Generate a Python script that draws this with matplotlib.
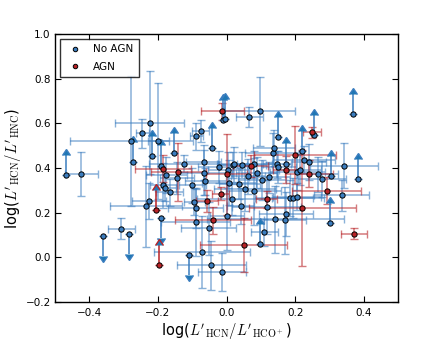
import matplotlib
matplotlib.use("Agg")
import numpy as np
import matplotlib.pyplot as plt

# --- No AGN : points with error bars ---
noagn_x = [-0.423, -0.307, -0.277, -0.245, -0.224, -0.226, -0.236, -0.199, -0.184, -0.178,
           -0.176, -0.166, -0.144, -0.125, -0.100, -0.094, -0.090, -0.090, -0.088, -0.075,
           -0.071, -0.067, -0.065, -0.062, -0.052, -0.044, -0.022, -0.013, 0.002, 0.005,
           0.007, 0.015, 0.019, 0.023, 0.037, 0.041, 0.046, 0.054, 0.063, 0.066,
           0.079, 0.081, 0.088, 0.096, 0.104, 0.110, 0.117, 0.124, 0.134, 0.138,
           0.142, 0.147, 0.151, 0.170, 0.173, 0.184, 0.192, 0.204, 0.206, 0.214,
           0.226, 0.240, 0.265, 0.278, 0.336, 0.342]
noagn_y = [0.373, 0.127, 0.522, 0.556, 0.602, 0.253, 0.228, 0.520, 0.323, 0.311,
           0.368, 0.292, 0.355, 0.420, 0.322, 0.249, 0.222, 0.158, 0.542, 0.565,
           0.024, 0.425, 0.379, 0.341, 0.130, -0.036, 0.405, -0.064, 0.185, 0.390,
           0.334, 0.259, 0.413, 0.416, 0.329, 0.229, 0.413, 0.307, 0.362, 0.630,
           0.295, 0.416, 0.379, 0.653, 0.346, 0.113, 0.225, 0.359, 0.468, 0.490,
           0.170, 0.416, 0.404, 0.167, 0.194, 0.267, 0.267, 0.271, 0.383, 0.392,
           0.437, 0.428, 0.371, 0.352, 0.277, 0.411]
noagn_xerr = [0.047, 0.039, 0.180, 0.020, 0.100, 0.050, 0.105, 0.030, 0.040, 0.030,
              0.060, 0.040, 0.050, 0.100, 0.040, 0.030, 0.080, 0.100, 0.020, 0.025,
              0.140, 0.050, 0.080, 0.060, 0.080, 0.100, 0.060, 0.070, 0.050, 0.060,
              0.080, 0.100, 0.040, 0.050, 0.060, 0.040, 0.070, 0.090, 0.050, 0.040,
              0.080, 0.050, 0.060, 0.104, 0.070, 0.040, 0.100, 0.060, 0.080, 0.060,
              0.200, 0.040, 0.050, 0.060, 0.080, 0.100, 0.060, 0.070, 0.080, 0.060,
              0.090, 0.050, 0.060, 0.070, 0.080, 0.100]
noagn_yerr = [0.097, 0.047, 0.290, 0.065, 0.230, 0.080, 0.180, 0.260, 0.100, 0.060,
              0.080, 0.060, 0.070, 0.040, 0.080, 0.060, 0.090, 0.150, 0.060, 0.050,
              0.160, 0.080, 0.100, 0.060, 0.120, 0.110, 0.070, 0.085, 0.150, 0.080,
              0.100, 0.070, 0.060, 0.080, 0.070, 0.080, 0.060, 0.100, 0.080, 0.045,
              0.150, 0.060, 0.070, 0.155, 0.090, 0.060, 0.120, 0.070, 0.090, 0.080,
              0.150, 0.060, 0.070, 0.150, 0.100, 0.080, 0.090, 0.060, 0.080, 0.070,
              0.060, 0.080, 0.080, 0.080, 0.070, 0.100]

# --- No AGN : lower limits (arrow up) and upper limits (arrow down) ---
noagn_lo_x = [-0.469, -0.273, -0.217, -0.192, -0.153, -0.042, -0.010, -0.006, 0.098, 0.149,
              0.173, 0.220, 0.255, 0.301, 0.305, 0.369, 0.383]
noagn_lo_y = [0.368, 0.426, 0.455, 0.411, 0.466, 0.490, 0.613, 0.620, 0.061, 0.538,
              0.420, 0.475, 0.547, 0.155, 0.364, 0.641, 0.349]
noagn_up_x = [-0.361, -0.284, -0.192, -0.109]
noagn_up_y = [0.097, 0.106, 0.177, 0.009]

# --- AGN ---
agn_x = [-0.185, -0.141, -0.056, -0.040, -0.017, -0.012, 0.000, 0.050, 0.070, 0.117,
         0.174, 0.200, 0.221, 0.239, 0.249, 0.291, 0.372]
agn_y = [0.396, 0.382, 0.253, 0.165, 0.285, 0.653, 0.371, 0.055, 0.408, 0.259,
         0.393, 0.459, 0.222, 0.374, 0.559, 0.298, 0.106]
agn_xerr = [0.082, 0.080, 0.032, 0.110, 0.025, 0.062, 0.060, 0.127, 0.050, 0.030,
            0.040, 0.120, 0.155, 0.070, 0.025, 0.100, 0.038]
agn_yerr = [0.060, 0.130, 0.050, 0.060, 0.030, 0.040, 0.180, 0.120, 0.050, 0.040,
            0.060, 0.130, 0.260, 0.060, 0.025, 0.060, 0.025]
agn_lo_x = [-0.205, -0.197]
agn_lo_y = [0.210, -0.034]

blue = '#3b7dbf'
red = '#b82226'
lim_len = 0.09

plt.rcParams['mathtext.fontset'] = 'cm'

fig = plt.figure(figsize=(4.43, 3.46), dpi=100)
ax = fig.add_axes([0.124, 0.127, 0.775, 0.775])

ax.errorbar(noagn_x, noagn_y, xerr=noagn_xerr, yerr=noagn_yerr, fmt='none',
            ecolor=blue, alpha=0.6, elinewidth=1.1, capsize=3, zorder=1)
ax.errorbar(agn_x, agn_y, xerr=agn_xerr, yerr=agn_yerr, fmt='none',
            ecolor=red, alpha=0.6, elinewidth=1.1, capsize=3, zorder=1)

ax.errorbar(noagn_lo_x, noagn_lo_y, yerr=lim_len, lolims=True, fmt='none',
            ecolor=blue, elinewidth=1.1, capsize=3, zorder=2)
ax.errorbar(noagn_up_x, noagn_up_y, yerr=lim_len, uplims=True, fmt='none',
            ecolor=blue, elinewidth=1.1, capsize=3, zorder=2)
ax.errorbar(agn_lo_x, agn_lo_y, yerr=lim_len, lolims=True, fmt='none',
            ecolor=red, elinewidth=1.1, capsize=3, zorder=2)

ax.plot(noagn_x + noagn_lo_x + noagn_up_x, noagn_y + noagn_lo_y + noagn_up_y, 'o',
        color=blue, mec='black', mew=0.7, ms=3.8, zorder=3, label='No AGN')
ax.plot(agn_x + agn_lo_x, agn_y + agn_lo_y, 'o',
        color=red, mec='black', mew=0.7, ms=3.8, zorder=3, label='AGN')

ax.set_xlim(-0.5, 0.5)
ax.set_ylim(-0.2, 1.0)
ax.set_xticks([-0.4, -0.2, 0.0, 0.2, 0.4])
ax.set_yticks([-0.2, 0.0, 0.2, 0.4, 0.6, 0.8, 1.0])
ax.tick_params(direction='in', top=True, right=True, labelsize=7.5, length=4)
ax.tick_params(axis='x', pad=4.5)
ax.tick_params(axis='y', pad=3)
for s in ax.spines.values():
    s.set_linewidth(1.0)

ax.set_xlabel(r"log(${L^{\prime}}_{\rm HCN}/{L^{\prime}}_{\rm HCO^+}$)", fontsize=10.5, labelpad=2)
ax.set_ylabel(r"log(${L^{\prime}}_{\rm HCN}/{L^{\prime}}_{\rm HNC}$)", fontsize=10.5, labelpad=2)

leg = ax.legend(loc='upper left', numpoints=1, fancybox=False, fontsize=7.5,
                markerscale=0.85, handlelength=1.9, handletextpad=0.77,
                borderpad=0.5, labelspacing=0.75)
leg.get_frame().set_edgecolor('black')
leg.get_frame().set_linewidth(1.0)

fig.savefig('out.png', dpi=100)
